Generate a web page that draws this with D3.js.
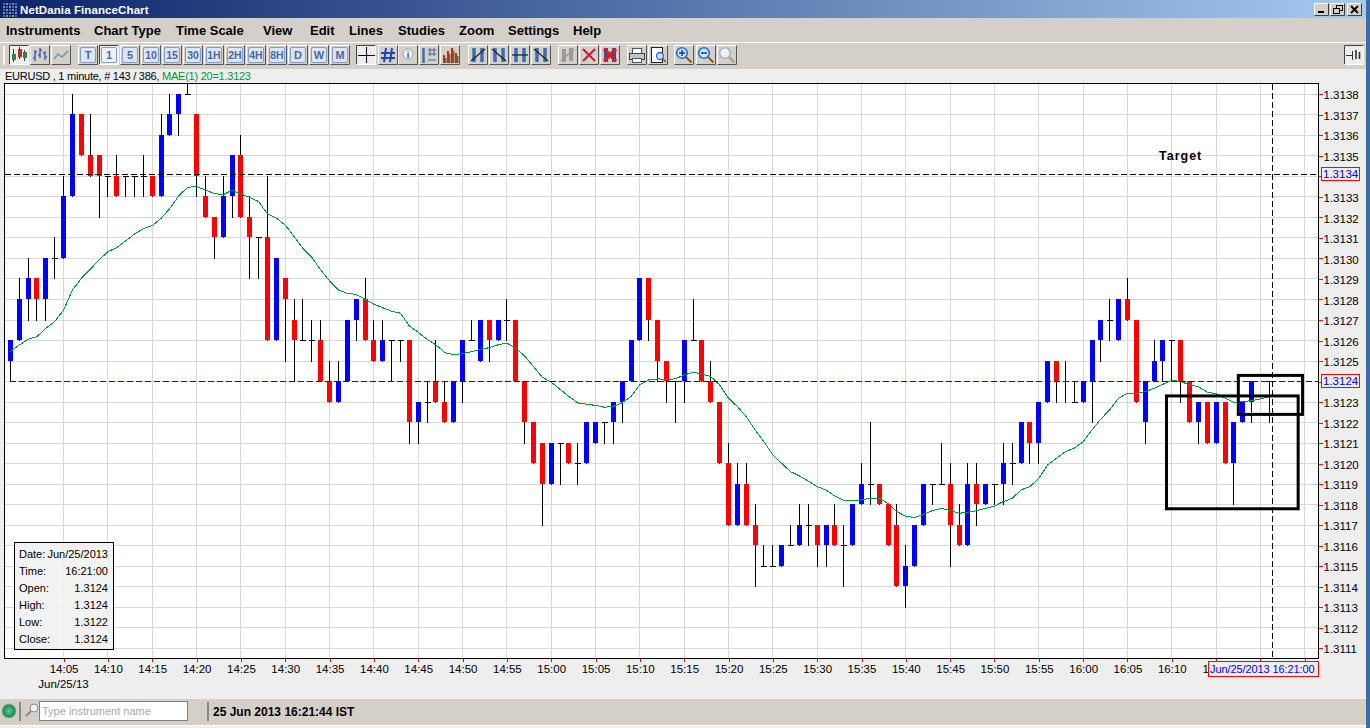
<!DOCTYPE html>
<html>
<head>
<meta charset="utf-8">
<title>NetDania FinanceChart</title>
<script src="https://cdn.jsdelivr.net/npm/d3@7"></script>
<style>
  html, body { margin: 0; padding: 0; background: #eeeeee; overflow: hidden; }
  svg { display: block; font-family: "Liberation Sans", Arial, sans-serif; }
  .menu { font-size: 13px; font-weight: bold; fill: #000; }
  .axis text { font-size: 11.5px; fill: #000; }
  .axis .domain { display: none; }
  .axis line { stroke: #ff0000; shape-rendering: crispEdges; }
  .grid { stroke: #d8d8d8; stroke-width: 1; shape-rendering: crispEdges; }
  .info { font-size: 11px; fill: #000; }
</style>
</head>
<body>
<svg id="chart" width="1370" height="728"></svg>
<script>
// candles, one per minute from 13:59 to 16:21 (the 16:20 bar is empty in the picture)
var opens = [1.3125,1.3126,1.3128,1.3129,1.3128,1.3130,1.3130,1.3133,1.3137,1.3135,1.3135,1.3134,1.3134,1.3134,1.3134,1.3134,1.3134,1.3133,1.3136,1.3137,
  1.3138,1.3137,1.3133,1.3132,1.3131,1.3133,1.3135,1.3132,1.3131,1.3131,1.3126,1.3129,1.3127,1.3126,1.3126,1.3126,1.3124,1.3123,1.3124,1.3127,
  1.3128,1.3126,1.3125,1.3126,1.3126,1.3126,1.3122,1.3123,1.3124,1.3123,1.3122,1.3124,1.3126,1.3125,1.3127,1.3126,1.3127,1.3127,1.3124,1.3122,
  1.3121,1.3119,1.3121,1.3121,1.3120,1.3120,1.3121,1.3122,1.3122,1.3123,1.3124,1.3126,1.3129,1.3127,1.3125,1.3124,1.3124,1.3126,1.3126,1.3124,
  1.3123,1.3120,1.3117,1.3119,1.3117,1.3115,1.3115,1.3115,1.3116,1.3116,1.3117,1.3117,1.3116,1.3117,1.3116,1.3116,1.3118,1.3119,1.3119,1.3118,
  1.3117,1.3114,1.3115,1.3117,1.3119,1.3119,1.3119,1.3117,1.3116,1.3119,1.3118,1.3119,1.3119,1.3120,1.3120,1.3122,1.3121,1.3123,1.3125,1.3124,
  1.3123,1.3123,1.3124,1.3126,1.3127,1.3126,1.3128,1.3127,1.3122,1.3124,1.3125,1.3126,1.3126,1.3124,1.3122,1.3123,1.3121,1.3123,1.3120,1.3122,
  1.3123,null,1.3124];
var highs = [1.3126,1.3129,1.3130,1.3129,1.3130,1.3131,1.3134,1.3138,1.3137,1.3137,1.3135,1.3134,1.3135,1.3134,1.3134,1.3135,1.3134,1.3137,1.3138,1.3138,
  1.3139,1.3137,1.3134,1.3132,1.3134,1.3135,1.3136,1.3133,1.3131,1.3134,1.3130,1.3129,1.3128,1.3128,1.3127,1.3127,1.3125,1.3125,1.3127,1.3128,
  1.3129,1.3127,1.3127,1.3126,1.3126,1.3126,1.3123,1.3124,1.3126,1.3124,1.3124,1.3126,1.3127,1.3127,1.3127,1.3127,1.3128,1.3127,1.3124,1.3122,
  1.3121,1.3121,1.3121,1.3121,1.3121,1.3122,1.3122,1.3122,1.3123,1.3124,1.3126,1.3129,1.3129,1.3127,1.3125,1.3124,1.3126,1.3128,1.3126,1.3125,
  1.3123,1.3121,1.3120,1.3120,1.3118,1.3116,1.3116,1.3116,1.3117,1.3118,1.3118,1.3117,1.3117,1.3118,1.3117,1.3118,1.3120,1.3122,1.3119,1.3118,
  1.3118,1.3116,1.3117,1.3119,1.3119,1.3121,1.3120,1.3118,1.3120,1.3120,1.3119,1.3119,1.3121,1.3121,1.3122,1.3122,1.3123,1.3125,1.3125,1.3125,
  1.3124,1.3124,1.3126,1.3127,1.3128,1.3128,1.3129,1.3127,1.3124,1.3126,1.3126,1.3126,1.3126,1.3124,1.3123,1.3123,1.3123,1.3123,1.3122,1.3123,
  1.3124,null,1.3124];
var lows = [1.3124,1.3126,1.3127,1.3127,1.3127,1.3129,1.3130,1.3133,1.3135,1.3134,1.3132,1.3133,1.3133,1.3133,1.3133,1.3133,1.3133,1.3133,1.3136,1.3136,
  1.3138,1.3133,1.3132,1.3130,1.3131,1.3132,1.3132,1.3129,1.3129,1.3126,1.3126,1.3125,1.3124,1.3126,1.3125,1.3124,1.3123,1.3123,1.3124,1.3126,
  1.3126,1.3125,1.3125,1.3124,1.3125,1.3121,1.3121,1.3122,1.3123,1.3122,1.3122,1.3123,1.3126,1.3125,1.3125,1.3126,1.3126,1.3124,1.3121,1.3120,
  1.3117,1.3119,1.3119,1.3120,1.3119,1.3120,1.3121,1.3121,1.3121,1.3122,1.3124,1.3126,1.3126,1.3124,1.3123,1.3122,1.3123,1.3126,1.3124,1.3123,
  1.3120,1.3117,1.3117,1.3117,1.3114,1.3115,1.3115,1.3115,1.3116,1.3116,1.3116,1.3115,1.3115,1.3116,1.3114,1.3116,1.3118,1.3118,1.3118,1.3116,
  1.3114,1.3113,1.3115,1.3117,1.3118,1.3119,1.3115,1.3116,1.3116,1.3117,1.3118,1.3118,1.3118,1.3119,1.3120,1.3120,1.3120,1.3123,1.3123,1.3123,
  1.3123,1.3123,1.3122,1.3125,1.3126,1.3126,1.3127,1.3123,1.3121,1.3124,1.3124,1.3124,1.3123,1.3122,1.3121,1.3121,1.3121,1.3120,1.3118,1.3122,
  1.3122,null,1.3122];
var closes = [1.3126,1.3128,1.3129,1.3128,1.3130,1.3130,1.3133,1.3137,1.3135,1.3134,1.3134,1.3134,1.3133,1.3134,1.3134,1.3134,1.3133,1.3136,1.3137,1.3138,
  1.3138,1.3134,1.3132,1.3131,1.3133,1.3135,1.3132,1.3131,1.3131,1.3126,1.3130,1.3128,1.3126,1.3126,1.3126,1.3124,1.3123,1.3124,1.3127,1.3128,
  1.3126,1.3125,1.3126,1.3126,1.3126,1.3122,1.3123,1.3123,1.3123,1.3122,1.3124,1.3126,1.3126,1.3127,1.3126,1.3127,1.3127,1.3124,1.3122,1.3120,
  1.3119,1.3121,1.3121,1.3120,1.3120,1.3122,1.3122,1.3122,1.3123,1.3124,1.3126,1.3129,1.3127,1.3125,1.3124,1.3124,1.3126,1.3126,1.3124,1.3123,
  1.3120,1.3117,1.3119,1.3117,1.3116,1.3115,1.3115,1.3116,1.3116,1.3117,1.3117,1.3116,1.3117,1.3116,1.3116,1.3118,1.3119,1.3119,1.3118,1.3116,
  1.3114,1.3115,1.3117,1.3119,1.3119,1.3119,1.3117,1.3116,1.3119,1.3118,1.3119,1.3119,1.3120,1.3120,1.3122,1.3121,1.3123,1.3125,1.3124,1.3124,
  1.3123,1.3124,1.3126,1.3127,1.3127,1.3128,1.3127,1.3123,1.3124,1.3125,1.3126,1.3126,1.3124,1.3122,1.3123,1.3121,1.3123,1.3120,1.3122,1.3123,
  1.3124,null,1.3124];
// MAE(1) 20 line
var maValues = [1.312546,1.312578,1.312606,1.312619,1.31266,1.312692,1.312749,1.312846,1.312903,1.312947,1.312993,1.313033,1.313053,1.313085,1.313119,1.313145,1.31316,1.313196,1.313244,1.313306,
  1.313347,1.31335,1.313334,1.313316,1.313311,1.313332,1.313314,1.313298,1.313277,1.313217,1.313196,1.313163,1.313106,1.313049,1.313005,1.312944,1.31289,1.312846,1.31283,1.312825,
  1.312801,1.312777,1.31276,1.312743,1.312733,1.312671,1.31264,1.312606,1.312579,1.312541,1.312531,1.312536,1.312546,1.312557,1.312565,1.312579,1.312588,1.312562,1.312525,1.312473,
  1.312421,1.312397,1.312362,1.312327,1.312296,1.312289,1.312284,1.312275,1.312278,1.312297,1.312327,1.312384,1.312408,1.312413,1.312411,1.312413,1.312432,1.312445,1.312437,1.312424,
  1.312384,1.312319,1.312278,1.312229,1.312164,1.312107,1.312042,1.312001,1.311961,1.31194,1.311915,1.311888,1.311871,1.311842,1.311821,1.311818,1.311824,1.311831,1.311831,1.311806,
  1.311766,1.311743,1.311738,1.311753,1.311771,1.311782,1.311772,1.311758,1.311763,1.311771,1.311782,1.311793,1.311815,1.311831,1.311872,1.311888,1.311929,1.311994,1.312026,1.312059,
  1.312075,1.312107,1.312164,1.312218,1.312262,1.312319,1.312343,1.312343,1.312351,1.312367,1.312387,1.312406,1.3124,1.312384,1.312375,1.312349,1.31234,1.312319,1.312299,1.312302,
  1.312307,1.312315,1.312327];
var yTicks = [1.3111,1.3112,1.3113,1.3114,1.3115,1.3116,1.3117,1.3118,1.3119,1.3120,1.3121,1.3122,1.3123,1.3124,1.3125,1.3126,1.3127,1.3128,1.3129,1.3130,
  1.3131,1.3132,1.3133,1.3134,1.3135,1.3136,1.3137,1.3138];
var xTickMinutes = [6,11,16,21,26,31,36,41,46,51,56,61,66,71,76,81,86,91,96,101,106,111,116,121,126,131,136,141,146];
var infoRows = [["Date:","Jun/25/2013"],["Time:","16:21:00"],["Open:","1.3124"],["High:","1.3124"],["Low:","1.3122"],["Close:","1.3124"]];
var menuItems = [["Instruments",6],["Chart Type",94],["Time Scale",176],["View",263],["Edit",310],["Lines",349],["Studies",398],["Zoom",459],["Settings",508],["Help",573]];
var scaleButtons = ["T","1","5","10","15","30","1H","2H","4H","8H","D","W","M"];
var boxedPrices = ["1.3134","1.3124"];

var startTime = Date.UTC(2013,5,25,13,59);
function minuteToDate(m) { return new Date(startTime + m*60000); }

var plotLeft = 4.5, plotRight = 1318.5, plotTop = 83.5, plotBottom = 658.5;
var x = d3.scaleUtc().domain([minuteToDate(0), minuteToDate(146)]).range([10.4, 1304.8]);
var y = d3.scaleLinear().domain([1.3111, 1.3138]).range([648.3, 94.3]);
function px(v) { return Math.floor(v) + 0.5; }

var svg = d3.select("#chart");

// window chrome
var defs = svg.append("defs");
var grad = defs.append("linearGradient").attr("id","titleGrad");
grad.append("stop").attr("offset","0%").attr("stop-color","#0a246a");
grad.append("stop").attr("offset","100%").attr("stop-color","#a6caf0");
defs.append("clipPath").attr("id","plotClip").append("rect")
  .attr("x",plotLeft).attr("y",plotTop).attr("width",plotRight-plotLeft).attr("height",plotBottom-plotTop);

svg.append("rect").attr("width",1370).attr("height",728).attr("fill","#eeeeee");
svg.append("rect").attr("width",1366).attr("height",18).attr("fill","url(#titleGrad)");
for (var i = 0; i < 5; i++) {
  for (var j = 0; j < 5; j++) {
    svg.append("rect").attr("x",3+i*3).attr("y",3+j*3).attr("width",2).attr("height",2)
      .attr("fill",(i+j)%2 ? "#7f8fb5" : "#55668f");
  }
}
svg.append("text").attr("x",20).attr("y",13.5).text("NetDania FinanceChart")
  .attr("font-size",11.5).attr("font-weight","bold").attr("fill","#fff").attr("letter-spacing",0.1);
svg.append("rect").attr("y",18).attr("width",1366).attr("height",25).attr("fill","#d4d0c8");
svg.append("rect").attr("y",42).attr("width",1366).attr("height",1).attr("fill","#ffffff");
svg.append("rect").attr("y",43).attr("width",1366).attr("height",26).attr("fill","#d4d0c8");
svg.append("rect").attr("y",699).attr("width",1366).attr("height",26).attr("fill","#d4d0c8");
svg.append("rect").attr("y",725).attr("width",1366).attr("height",1).attr("fill","#ffffff");
svg.append("rect").attr("x",1366).attr("width",4).attr("height",728).attr("fill","#3a6ea5");

// min / restore / close
function capButton(bx) {
  svg.append("rect").attr("x",bx).attr("y",3).attr("width",15).attr("height",13).attr("fill","#d4d0c8");
  svg.append("path").attr("d","M"+(bx+.5)+" 15.5V3.5H"+(bx+14.5)).attr("stroke","#fff").attr("fill","none");
  svg.append("path").attr("d","M"+(bx+.5)+" 15.5H"+(bx+14.5)+"V3.5").attr("stroke","#404040").attr("fill","none");
}
capButton(1314); capButton(1330); capButton(1347);
svg.append("rect").attr("x",1318).attr("y",11).attr("width",6).attr("height",2).attr("fill","#000");
svg.append("rect").attr("x",1336.5).attr("y",5.5).attr("width",6).attr("height",5).attr("fill","none").attr("stroke","#000");
svg.append("rect").attr("x",1333.5).attr("y",8.5).attr("width",6).attr("height",5).attr("fill","#d4d0c8").attr("stroke","#000");
svg.append("path").attr("d","M1351 6L1358 13M1358 6L1351 13").attr("stroke","#000").attr("stroke-width",1.8);

// menu
svg.selectAll("text.menu").data(menuItems).enter().append("text")
  .attr("class","menu").attr("x",function(d){return d[1];}).attr("y",35).text(function(d){return d[0];});

// toolbar
function button(cx, pressed) {
  var g = svg.append("g").attr("transform","translate("+(cx-10)+",45)");
  g.append("rect").attr("width",20).attr("height",20).attr("fill",pressed ? "#eeeeee" : "#d4d0c8");
  g.append("path").attr("d","M.5 19.5V.5H19.5").attr("stroke",pressed ? "#404040" : "#fff").attr("fill","none");
  g.append("path").attr("d","M.5 19.5H19.5V.5").attr("stroke",pressed ? "#fff" : "#555").attr("fill","none");
  return g;
}
function icon(g, d, color, w) {
  g.append("path").attr("d",d).attr("fill","none").attr("stroke",color).attr("stroke-width",w || 1);
}
svg.append("rect").attr("x",3).attr("y",46).attr("width",2).attr("height",19).attr("fill","#f4f4f0");

var bCandle = button(19,true);
icon(bCandle,"M4.5 4V17M10.5 2V14M15.5 5V16","#333");
bCandle.append("rect").attr("x",3).attr("y",9).attr("width",4).attr("height",6).attr("fill","#2a8a3a");
bCandle.append("rect").attr("x",9).attr("y",4).attr("width",4).attr("height",8).attr("fill","#c0282a");
bCandle.append("rect").attr("x",14).attr("y",7).attr("width",4).attr("height",6).attr("fill","#2a8a3a");
var bBars = button(40,false);
icon(bBars,"M5 5V16M3 13H5M5 7H7M10 3V13M8 10H10M10 5H12M15 6V15M13 8H15M15 12H17","#3b6db0",1.5);
var bLine = button(61,false);
icon(bLine,"M3 14L7 9L11 12L17 6","#6f8fb8",1.5);

var bw = 21;
scaleButtons.forEach(function(label, i) {
  var pressed = label === "1";
  var g = button(88+i*bw, pressed);
  g.append("rect").attr("x",2.5).attr("y",2.5).attr("width",15).attr("height",15).attr("rx",1.5)
    .attr("fill",pressed ? "#eef2fa" : "#dce6f6").attr("stroke","#7f9fd0");
  g.append("text").attr("x",10).attr("y",14).attr("text-anchor","middle").text(label)
    .attr("font-size",label.length > 1 ? 10.5 : 11).attr("font-weight","bold").attr("fill","#4a6a9a");
});

var bCross = button(366,true);
icon(bCross,"M10.5 2V18M2 10.5H19","#000");
var bHash = button(388,false);
icon(bHash,"M8 3L6 17M14 3L12 17M3 8H17M3 13H17","#1646b8",2);
var bInfo = button(408,false);
bInfo.append("circle").attr("cx",10).attr("cy",9).attr("r",5).attr("fill","#f4f4f4").attr("stroke","#9aa4b8");
bInfo.append("text").attr("x",10).attr("y",12.5).attr("text-anchor","middle").text("i")
  .attr("font-size",9).attr("font-weight","bold").attr("fill","#1646b8");
var bCross2 = button(429,false);
icon(bCross2,"M4.5 3V18","#3b6db0",2.5);
icon(bCross2,"M9 5H17M9 9H17M11 3V11M15 3V11M9 15H17","#3b6db0",1);
var bVol = button(450,false);
[[3,10],[7,6],[11,3],[15,8]].forEach(function(b) {
  bVol.append("rect").attr("x",b[0]).attr("y",b[1]).attr("width",2).attr("height",18-b[1]).attr("fill","#c0282a");
  bVol.append("rect").attr("x",b[0]+2).attr("y",b[1]+3).attr("width",1.5).attr("height",15-b[1]).attr("fill","#2a8a3a");
});
[[478,"M3 16L17 4"],[499,"M3 4L17 16"],[520,"M2 10H18"],[541,"M3 4L17 16"]].forEach(function(t) {
  var g = button(t[0],false);
  icon(g,"M6 3V17M14 3V17","#3b6db0",3.5);
  icon(g,t[1],"#222",1.3);
});
var bGrey = button(568,false);
icon(bGrey,"M6 4V17M13 3V16","#9a9a9a",4);
icon(bGrey,"M3 16L16 4","#9a9a9a",1.5);
var bX = button(589,false);
icon(bX,"M4 4L16 16M16 4L4 16","#d01030",1.8);
var bXX = button(610,false);
icon(bXX,"M6 3V17M14 3V17","#2a50b0",4);
icon(bXX,"M4 4L16 16M16 4L4 16","#d02030",3.4);
var bPrint = button(637,false);
bPrint.append("rect").attr("x",5.5).attr("y",3.5).attr("width",9).attr("height",5).attr("fill","#fff").attr("stroke","#555");
bPrint.append("rect").attr("x",2.5).attr("y",8.5).attr("width",15).attr("height",6).attr("fill","#b8c8d4").attr("stroke","#444");
bPrint.append("rect").attr("x",5.5).attr("y",13.5).attr("width",9).attr("height",4).attr("fill","#fff").attr("stroke","#555");
var bPrev = button(658,false);
bPrev.append("rect").attr("x",3.5).attr("y",2.5).attr("width",11).attr("height",15).attr("fill","#fff").attr("stroke","#222");
bPrev.append("circle").attr("cx",12).attr("cy",11).attr("r",3.5).attr("fill","#bfe0f8").attr("stroke","#2a70c0").attr("stroke-width",1.3);
icon(bPrev,"M14.5 13.5L18 17","#8a5a20",1.6);
[[684,"+","#1f6fd8"],[706,"-","#1f6fd8"],[727,"","#a8b4c0"]].forEach(function(z) {
  var g = button(z[0],false);
  g.append("circle").attr("cx",8).attr("cy",8).attr("r",5.3).attr("fill",z[1] ? "#cfe4fa" : "#eef0f2").attr("stroke",z[2]).attr("stroke-width",1.6);
  icon(g,"M12 12L17.5 17.5",z[1] ? "#8a5a20" : "#a0a0a0",2);
  if (z[1] === "+") icon(g,"M5 8H11M8 5V11","#123a90",1.5);
  if (z[1] === "-") icon(g,"M5 8H11","#123a90",1.5);
});
var bPin = button(1354,true);
icon(bPin,"M2 10.5H8M8.5 6V15","#333");
icon(bPin,"M12 5V14M15.5 7V14","#333",1.6);

// header line
var head = svg.append("text").attr("x",5).attr("y",80).attr("font-size",11).attr("letter-spacing",-0.25);
head.append("tspan").text("EURUSD , 1 minute, # 143 / 386, ").attr("fill","#000");
head.append("tspan").text("MAE(1) 20=1.3123").attr("fill","#009933");

// plot
svg.append("rect").attr("x",plotLeft).attr("y",plotTop).attr("width",plotRight-plotLeft).attr("height",plotBottom-plotTop)
  .attr("fill","#fff");
var xTicks = xTickMinutes.map(minuteToDate);
var plot = svg.append("g").attr("clip-path","url(#plotClip)");
plot.selectAll("line.gy").data(yTicks).enter().append("line").attr("class","grid")
  .attr("x1",plotLeft).attr("x2",plotRight)
  .attr("y1",function(d){return px(y(d));}).attr("y2",function(d){return px(y(d));});
plot.selectAll("line.gx").data(xTicks).enter().append("line").attr("class","grid")
  .attr("y1",plotTop).attr("y2",plotBottom)
  .attr("x1",function(d){return px(x(d));}).attr("x2",function(d){return px(x(d));});

// candles
var bars = opens.map(function(o,i) {
  return {t:minuteToDate(i), o:o, h:highs[i], l:lows[i], c:closes[i]};
}).filter(function(d){ return d.o !== null; });
var candle = plot.selectAll("g.candle").data(bars).enter().append("g").attr("class","candle")
  .attr("shape-rendering","crispEdges");
candle.append("rect")
  .attr("x",function(d){return Math.floor(x(d.t));})
  .attr("width",1)
  .attr("y",function(d){return Math.floor(y(d.h));})
  .attr("height",function(d){return Math.floor(y(d.l))-Math.floor(y(d.h))+1;})
  .attr("fill","#000");
candle.filter(function(d){return d.o === d.c;}).append("rect")
  .attr("x",function(d){return Math.floor(x(d.t))-2;})
  .attr("width",6).attr("height",1)
  .attr("y",function(d){return Math.floor(y(d.c));})
  .attr("fill","#000");
candle.filter(function(d){return d.o !== d.c;}).append("rect")
  .attr("x",function(d){return Math.floor(x(d.t))-2;})
  .attr("width",5)
  .attr("y",function(d){return Math.floor(y(Math.max(d.o,d.c)));})
  .attr("height",function(d){return Math.floor(y(Math.min(d.o,d.c)))-Math.floor(y(Math.max(d.o,d.c)));})
  .attr("fill",function(d){return d.c > d.o ? "#0000ff" : "#ff0000";});

// moving average
var maLine = d3.line()
  .x(function(d,i){return x(minuteToDate(i));})
  .y(function(d){return y(d);});
plot.append("path").datum(maValues).attr("d",maLine)
  .attr("fill","none").attr("stroke","#009933").attr("stroke-width",1).attr("shape-rendering","crispEdges");

// crosshair and marker lines
var targetPrice = 1.31341;
plot.append("line").attr("x1",plotLeft).attr("x2",plotRight)
  .attr("y1",px(y(targetPrice))).attr("y2",px(y(targetPrice)))
  .attr("stroke","#000").attr("stroke-dasharray","6,3").attr("shape-rendering","crispEdges");
plot.append("line").attr("x1",x(minuteToDate(0))).attr("x2",plotRight)
  .attr("y1",px(y(1.3124))).attr("y2",px(y(1.3124)))
  .attr("stroke","#0000ff").attr("stroke-dasharray","6,3").attr("shape-rendering","crispEdges");
plot.append("line").attr("x1",px(x(minuteToDate(142.33)))).attr("x2",px(x(minuteToDate(142.33))))
  .attr("y1",plotTop).attr("y2",plotBottom)
  .attr("stroke","#000").attr("stroke-dasharray","6,3").attr("shape-rendering","crispEdges");

// hand drawn annotation boxes and label
var boxes = [[130.4,145.25,1.31233,1.31178],[138.5,145.75,1.31243,1.31224]];
svg.selectAll("rect.note").data(boxes).enter().append("rect").attr("class","note")
  .attr("x",function(d){return x(minuteToDate(d[0]));})
  .attr("width",function(d){return x(minuteToDate(d[1]))-x(minuteToDate(d[0]));})
  .attr("y",function(d){return y(d[2]);})
  .attr("height",function(d){return y(d[3])-y(d[2]);})
  .attr("fill","none").attr("stroke","#000").attr("stroke-width",3);
svg.append("text").attr("x",1159).attr("y",160).text("Target")
  .attr("font-size",12.5).attr("font-weight","bold").attr("letter-spacing",1).attr("fill","#000");

// plot frame and axes
svg.append("rect").attr("x",plotLeft).attr("y",plotTop).attr("width",plotRight-plotLeft).attr("height",plotBottom-plotTop)
  .attr("fill","none").attr("stroke","#000").attr("shape-rendering","crispEdges");
var yAxis = d3.axisRight(y).tickValues(yTicks).tickSize(4).tickPadding(1)
  .tickFormat(function(d) {
    var s = d3.format(".4f")(d);
    return boxedPrices.indexOf(s) >= 0 ? "" : s;
  });
var yAxisG = svg.append("g").attr("class","axis").attr("transform","translate("+plotRight+",0)").call(yAxis);
yAxisG.selectAll("text").attr("dy","0.4em");

// the date box hides the last labels, only the first digit of 16:15 still shows
var hiddenFrom = minuteToDate(136);
var xAxis = d3.axisBottom(x).tickValues(xTicks).tickSize(3).tickPadding(3)
  .tickFormat(function(d) {
    if (+d === +hiddenFrom) return "1";
    return d > hiddenFrom ? "" : d3.utcFormat("%H:%M")(d);
  });
var xAxisG = svg.append("g").attr("class","axis").attr("transform","translate(0,"+plotBottom+")").call(xAxis);
xAxisG.selectAll(".tick").filter(function(d){return +d === +hiddenFrom;}).select("text").attr("x",-11);
svg.append("text").attr("x",63.5).attr("y",688).attr("text-anchor","middle").text("Jun/25/13").attr("font-size",11.5);

// crosshair value boxes
[[targetPrice,"1.3134"],[1.3124,"1.3124"]].forEach(function(b) {
  var by = Math.floor(y(b[0]));
  svg.append("rect").attr("x",1321.5).attr("y",by-6.5).attr("width",38).attr("height",13)
    .attr("fill","#eeeeee").attr("stroke","#ff0000").attr("shape-rendering","crispEdges");
  svg.append("text").attr("x",1323).attr("y",by+4).text(b[1]).attr("font-size",11.5).attr("fill","#0000ff");
});
svg.append("rect").attr("x",1208.5).attr("y",661.5).attr("width",110).attr("height",15)
  .attr("fill","#eeeeee").attr("stroke","#ff0000").attr("shape-rendering","crispEdges");
svg.append("text").attr("x",1210).attr("y",673).text("Jun/25/2013 16:21:00").attr("font-size",11).attr("letter-spacing",-0.1).attr("fill","#0000ff");

// data window
svg.append("rect").attr("x",14.5).attr("y",542.5).attr("width",99).attr("height",107)
  .attr("fill","#f2f2f2").attr("fill-opacity",0.9).attr("stroke","#000").attr("shape-rendering","crispEdges");
infoRows.forEach(function(r, i) {
  svg.append("text").attr("class","info").attr("x",19).attr("y",558+i*17).text(r[0]);
  svg.append("text").attr("class","info").attr("x",108).attr("y",558+i*17).attr("text-anchor","end").text(r[1]);
});

// status bar
var ballGrad = defs.append("radialGradient").attr("id","ball");
ballGrad.append("stop").attr("offset","0%").attr("stop-color","#5fd08a");
ballGrad.append("stop").attr("offset","100%").attr("stop-color","#0f7f4a");
svg.append("circle").attr("cx",9).attr("cy",711).attr("r",7).attr("fill","url(#ball)").attr("stroke","#8ab89a");
svg.append("rect").attr("x",19).attr("y",702).attr("width",2).attr("height",19).attr("fill","#8a8a84");
svg.append("circle").attr("cx",34).attr("cy",708).attr("r",4).attr("fill","#eef0f2").attr("stroke","#8a8a8a");
svg.append("path").attr("d","M31 711L26 716").attr("stroke","#8a8a8a").attr("stroke-width",2);
svg.append("rect").attr("x",39.5).attr("y",701.5).attr("width",148).attr("height",19)
  .attr("fill","#fff").attr("stroke","#808080").attr("shape-rendering","crispEdges");
svg.append("text").attr("x",42).attr("y",715).text("Type instrument name").attr("font-size",11).attr("fill","#a8a8a8");
svg.append("rect").attr("x",207).attr("y",702).attr("width",2).attr("height",19).attr("fill","#8a8a84");
svg.append("text").attr("x",213).attr("y",716).text("25 Jun 2013 16:21:44 IST")
  .attr("font-size",12).attr("font-weight","bold").attr("fill","#000");
</script>
</body>
</html>
